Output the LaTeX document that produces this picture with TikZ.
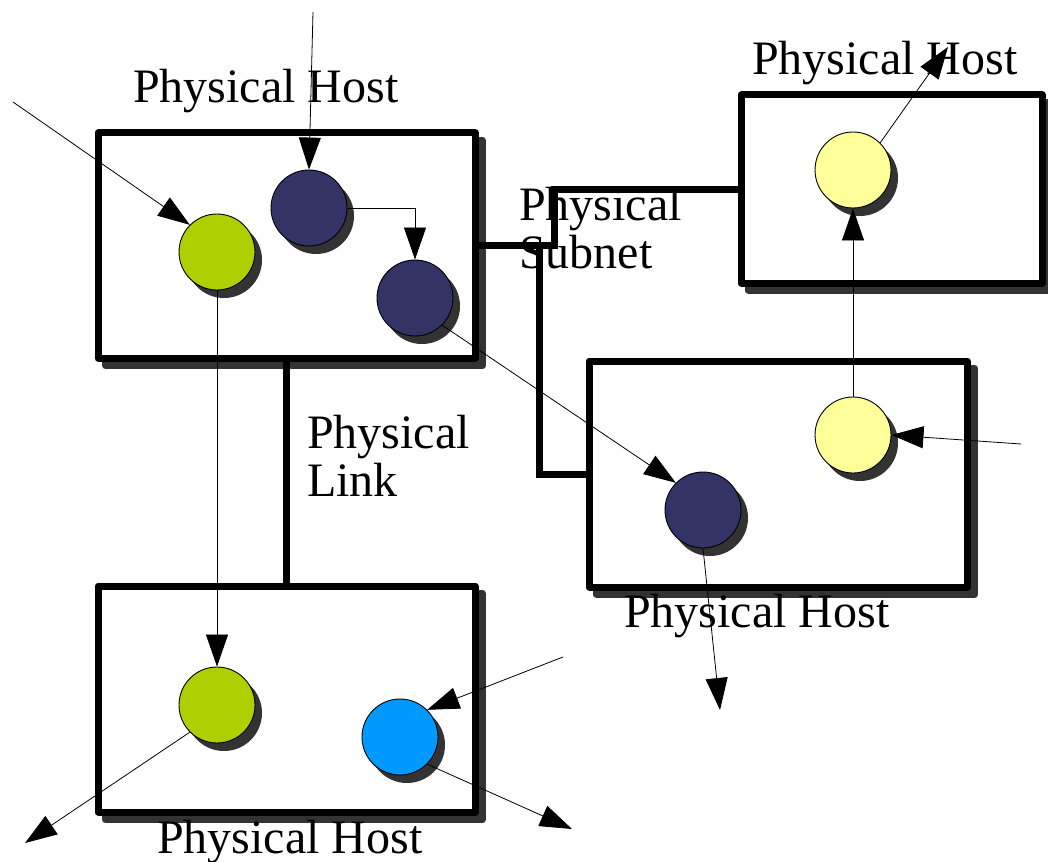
\documentclass[tikz,border=0pt]{standalone}
\usepackage{fontspec}
\setmainfont{Liberation Serif}
\usetikzlibrary{arrows.meta,shadows}

\definecolor{shadowgray}{HTML}{333333}
\definecolor{vmgreen}{HTML}{AECF00}
\definecolor{vmnavy}{HTML}{333366}
\definecolor{vmyellow}{HTML}{FFFF99}
\definecolor{vmblue}{HTML}{0099FF}

\tikzset{
  hostbox/.style={draw, line width=7pt, line join=round, fill=white, inner sep=0pt,
    drop shadow={shadow xshift=7.5pt, shadow yshift=-7.5pt, fill=shadowgray,
      draw=shadowgray, opacity=1}},
  vm/.style={circle, draw, line width=0.9pt, minimum size=76pt, inner sep=0pt,
    drop shadow={shadow xshift=7pt, shadow yshift=-8pt, fill=shadowgray, opacity=1}},
  wire/.style={line width=7pt},
  flow/.style={line width=0.8pt, -{Triangle[length=32pt,width=22pt]}},
  lbl/.style={inner sep=0pt, anchor=base west, align=left,
    font=\fontsize{48}{48}\selectfont},
}

\begin{document}
\begin{tikzpicture}[x=1pt,y=-1pt]
\useasboundingbox (0,0) rectangle (1048,861);

% physical hosts
\node[hostbox, minimum width=377pt, minimum height=225pt] (b1) at (286.5,245.5) {};
\node[hostbox, minimum width=301pt, minimum height=188pt] (b2) at (891.5,189) {};
\node[hostbox, minimum width=378pt, minimum height=226pt] (b3) at (778,474) {};
\node[hostbox, minimum width=377pt, minimum height=226pt] (b4) at (286.5,699) {};

% physical link and subnet
\draw[wire] (b1.south) -- (b4.north);
\draw[wire] (b1.east) -- ++(76,0) |- (b2.west);
\draw[wire] ([xshift=61pt]b1.east) |- (b3.west);

% labels (multi-line labels are placed by the baseline of their last line)
\node[lbl] (t1) at (133,103) {Physical Host};
\node[lbl] (t2) at (752,75) {Physical Host};
\node[lbl] (t3) at (624,627) {Physical Host};
\node[lbl] (t4) at (157,853) {Physical Host};
\node[lbl] (tsub) at (519,268) {Physical\\Subnet};
\node[lbl] (tlink) at (307,496) {Physical\\Link};

% virtual machines
\node[vm, fill=vmgreen]  (g1) at (217,252) {};
\node[vm, fill=vmnavy]   (n1) at (309,208) {};
\node[vm, fill=vmnavy]   (n2) at (415,298) {};
\node[vm, fill=vmyellow] (y1) at (853,170) {};
\node[vm, fill=vmyellow] (y2) at (853,435) {};
\node[vm, fill=vmnavy]   (n3) at (703,510) {};
\node[vm, fill=vmgreen]  (g2) at (217,705) {};
\node[vm, fill=vmblue]   (bl) at (400,737) {};

% open ends of the flows
\coordinate (inG) at (13,102);
\coordinate (inN) at (313,12);
\coordinate (inY) at (1021,444);
\coordinate (inB) at (563,657);
\coordinate (outY) at (948,47);
\coordinate (outN) at (720,710);
\coordinate (outB) at (572,829);
\coordinate (outG) at (25,843);

% traffic flows
\draw[flow] (inG) -- (g1.135);
\draw[flow] (inN) -- (n1.north);
\draw[flow] (n1.east) -| (n2.north);
\draw[flow] (g1.south) -- (g2.north);
\draw[flow] (n2.-45) -- (n3.135);
\draw[flow] (n3.south) -- (outN);
\draw[flow] (inY) -- (y2.east);
\draw[flow] (y2.north) -- (y1.south);
\draw[flow] (y1.45) -- (outY);
\draw[flow] (inB) -- (bl.45);
\draw[flow] (bl.-45) -- (outB);
\draw[flow] (g2.-135) -- (outG);
\end{tikzpicture}
\end{document}
